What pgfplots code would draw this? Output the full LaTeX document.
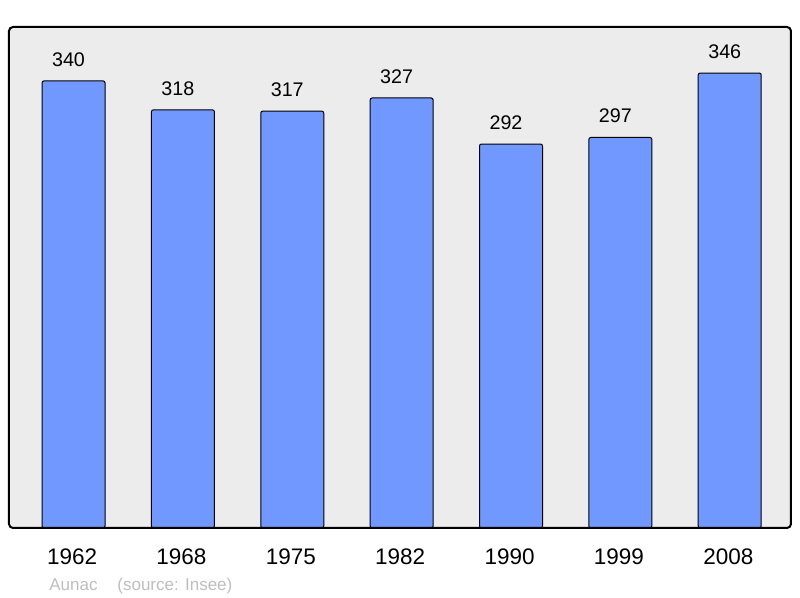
\documentclass[border=0pt]{standalone}
\usepackage{pgfplots}
\pgfplotsset{compat=1.18}
\usepackage{fontspec}
\setmainfont{Liberation Sans}
\definecolor{bgc}{RGB}{236,236,236}
\definecolor{barc}{RGB}{112,152,255}
\definecolor{footc}{RGB}{190,190,190}
\begin{document}
\begin{tikzpicture}
\path[use as bounding box] (0pt,0pt) rectangle (400pt,299pt);
\begin{axis}[
  at={(4.5pt,35pt)}, anchor=south west,
  width=391pt, height=250.5pt, scale only axis,
  xmin=-0.59, xmax=6.56, ymin=0, ymax=381,
  xtick={0,...,6},
  xticklabels={1962,1968,1975,1982,1990,1999,2008},
  ytick=\empty,
  major tick length=0pt,
  axis line style={draw=none},
  axis background/.style={fill=bgc, rounded corners=2pt},
  xticklabel style={font=\fontsize{11.25pt}{13pt}\selectfont, inner sep=0pt, anchor=north, yshift=-10pt, xshift=-0.7pt},
  /pgf/number format/assume math mode=true,
  nodes near coords,
  every node near coord/.append style={font=\fontsize{9.85pt}{12pt}\selectfont, inner sep=0pt, anchor=south, yshift=7pt, xshift=-2.5pt, text=black},
  clip=false,
]
\addplot[ybar, bar width=31.5pt, fill=barc, draw=black, line width=0.5pt, rounded corners=1pt] coordinates {
  (0,340) (1,318) (2,317) (3,327) (4,292) (5,297) (6,346)
};
\draw[black, line width=1pt, rounded corners=2pt] (rel axis cs:0,0) rectangle (rel axis cs:1,1);
\end{axis}
\node[anchor=base west, inner sep=0pt, text=footc, font=\fontsize{8.5pt}{10pt}\selectfont] at (24.5pt,3.5pt) {Aunac};
\node[anchor=base west, inner sep=0pt, text=footc, font=\fontsize{8.5pt}{10pt}\selectfont] at (58.5pt,3.5pt) {(source: Insee)};
\end{tikzpicture}
\end{document}
